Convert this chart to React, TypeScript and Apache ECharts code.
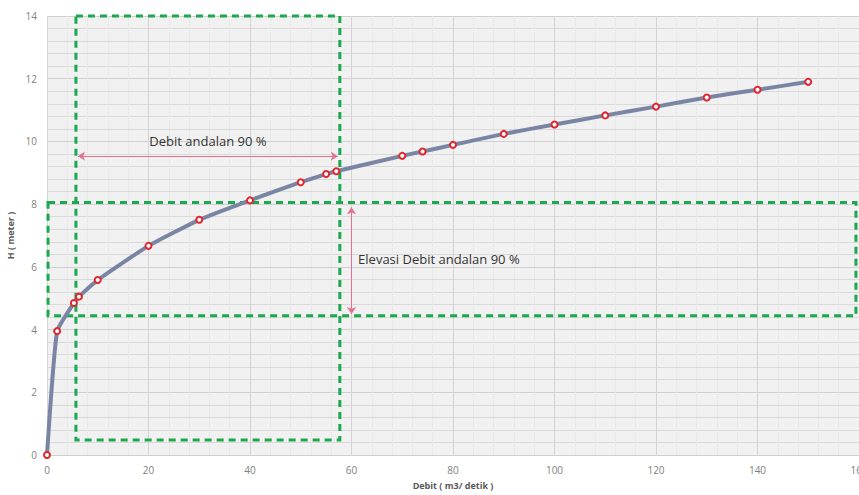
import React, { useEffect, useRef } from "react";
import * as echarts from "echarts";

const debit = [0, 2, 5.3, 6.3, 10, 20, 30, 40, 50, 55, 57, 70, 74, 80, 90, 100, 110, 120, 130, 140, 150];
const elevasi = [0, 3.95, 4.85, 5.05, 5.58, 6.67, 7.5, 8.12, 8.7, 8.96, 9.05, 9.54, 9.68, 9.89, 10.24, 10.54, 10.83, 11.11, 11.4, 11.65, 11.9];

const boxDebit = [5.7, 57.7, 0.48, 14];
const boxElev = [0.2, 159.4, 4.44, 8.05];
const arrowDebit = [6.1, 57.3, 9.53];
const arrowElev = [60, 4.5, 7.9];

const labelDebit = "Debit andalan 90 %";
const labelElev = "Elevasi Debit andalan 90 %";

export default function App() {
  const ref = useRef<HTMLDivElement>(null);
  useEffect(() => {
    document.body.style.margin = "0";
    const chart = echarts.init(ref.current!, null, { renderer: "svg" });
    const green = "#1ca84e";
    const pink = "#e2708f";
    const font = "'Open Sans', 'Noto Sans', sans-serif";
    chart.setOption({
      animation: false,
      backgroundColor: "#ffffff",
      textStyle: { fontFamily: font },
      grid: {
        left: 47,
        right: 0,
        top: 16,
        bottom: 40,
        show: true,
        containLabel: false,
        outerBoundsMode: "none",
        backgroundColor: "#f1f1f1",
        borderWidth: 0,
      },
      xAxis: {
        type: "value",
        min: 0,
        max: 160,
        interval: 20,
        name: "Debit ( m3/ detik )",
        nameLocation: "middle",
        nameGap: 26,
        nameTextStyle: { fontSize: 9, color: "#595959", fontWeight: "bold", fontFamily: font },
        axisLine: { show: false },
        axisTick: { show: false },
        axisLabel: { fontSize: 10, color: "#7f7f7f", margin: 10, fontFamily: font, hideOverlap: false },
        splitLine: { show: true, lineStyle: { color: "#d4d4d4", width: 1 } },
        minorTick: { show: false, splitNumber: 5 },
        minorSplitLine: { show: true, lineStyle: { color: "#e2e2e2", width: 1, type: "dotted" } },
      },
      yAxis: {
        type: "value",
        min: 0,
        max: 14,
        interval: 2,
        name: "H ( meter )",
        nameLocation: "middle",
        nameGap: 27,
        nameTextStyle: { fontSize: 9, color: "#595959", fontWeight: "bold", fontFamily: font },
        axisLine: { show: false },
        axisTick: { show: false },
        axisLabel: { fontSize: 10, color: "#7f7f7f", margin: 10, fontFamily: font },
        splitLine: { show: true, lineStyle: { color: "#d0d0d0", width: 1 } },
        minorTick: { show: false, splitNumber: 5 },
        minorSplitLine: { show: true, lineStyle: { color: "#d9d9d9", width: 1 } },
      },
      series: [
        {
          type: "line",
          data: debit.map((d, i) => [d, elevasi[i]]),
          smooth: 0.15,
          clip: false,
          symbol: "circle",
          symbolSize: 6,
          showAllSymbol: true,
          lineStyle: { color: "#7985a3", width: 4 },
          itemStyle: { color: "#ffffff", borderColor: "#e3262e", borderWidth: 2 },
          z: 5,
          markArea: {
            silent: true,
            itemStyle: {
              color: "rgba(0,0,0,0)",
              borderColor: green,
              borderWidth: 3,
              borderType: [7, 5],
            },
            data: [
              [
                { xAxis: boxDebit[0], yAxis: boxDebit[3] },
                { xAxis: boxDebit[1], yAxis: boxDebit[2] },
              ],
              [
                { xAxis: boxElev[0], yAxis: boxElev[3] },
                { xAxis: boxElev[1], yAxis: boxElev[2] },
              ],
            ],
          },
          markLine: {
            silent: true,
            symbol: ["arrow", "arrow"],
            symbolSize: 7,
            label: { show: false },
            lineStyle: { color: pink, width: 1, type: "solid" },
            data: [
              [
                { coord: [arrowDebit[0], arrowDebit[2]] },
                { coord: [arrowDebit[1], arrowDebit[2]] },
              ],
              [
                { coord: [arrowElev[0], arrowElev[2]] },
                { coord: [arrowElev[0], arrowElev[1]] },
              ],
            ],
          },
          markPoint: {
            silent: true,
            symbol: "circle",
            symbolSize: 1,
            itemStyle: { color: "rgba(0,0,0,0)" },
            data: [
              {
                coord: [31.7, 10.0],
                label: {
                  show: true,
                  position: "inside",
                  formatter: labelDebit,
                  color: "#333333",
                  fontSize: 13,
                  fontFamily: font,
                },
              },
              {
                coord: [61.2, 6.24],
                label: {
                  show: true,
                  position: "right",
                  distance: 0,
                  formatter: labelElev,
                  color: "#333333",
                  fontSize: 13,
                  fontFamily: font,
                },
              },
            ],
          },
        },
      ],
    });
    return () => chart.dispose();
  }, []);
  return <div ref={ref} style={{ width: 859, height: 495 }} />;
}
